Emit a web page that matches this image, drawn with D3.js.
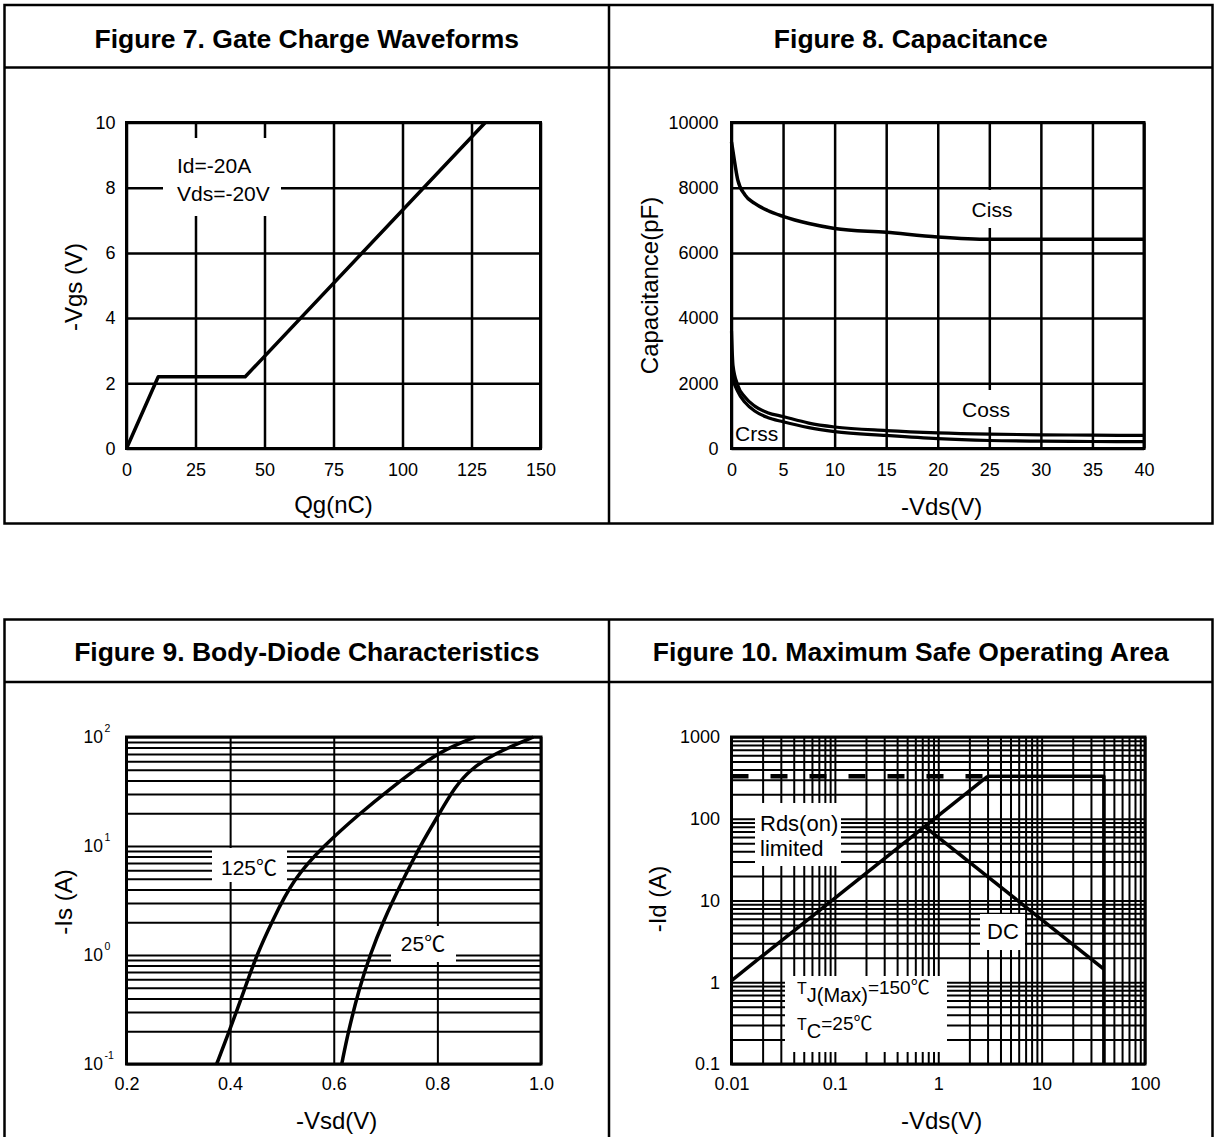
<!DOCTYPE html>
<html><head><meta charset="utf-8">
<script src="https://cdn.jsdelivr.net/npm/d3@7"></script>
<style>body{margin:0;background:#fff} svg{display:block}</style>
</head><body>
<svg id="c" width="1215" height="1137"></svg>
<script>
// ---------- DATA ----------
// Figure 7
const fig7Qg = [0, 11.5, 43, 130];
const fig7Vgs = [0, 2.2, 2.2, 10];
const fig7XTicks = [0, 25, 50, 75, 100, 125, 150];
const fig7YTicks = [0, 2, 4, 6, 8, 10];
// Figure 8
const fig8Vds  = [0, 0.15, 0.6, 1.3, 2.25, 3.5, 5, 7.5, 10, 15, 20, 25, 30, 35, 40];
const fig8Ciss = [9400, 9100, 8250, 7780, 7520, 7300, 7120, 6900, 6750, 6630, 6490, 6420, 6420, 6420, 6420];
const fig8Coss = [3600, 2550, 1950, 1580, 1300, 1100, 980, 780, 660, 550, 480, 440, 420, 410, 400];
const fig8Crss = [2500, 2150, 1750, 1420, 1150, 950, 820, 640, 520, 400, 300, 245, 225, 215, 210];
const fig8XTicks = [0, 5, 10, 15, 20, 25, 30, 35, 40];
const fig8YTicks = [0, 2000, 4000, 6000, 8000, 10000];
// Figure 9
const fig9Vsd125 = [0.374, 0.3985, 0.4288, 0.4513, 0.4802, 0.5221, 0.580, 0.6508, 0.714, 0.757, 0.8039, 0.8728];
const fig9Is125  = [0.1, 0.2, 0.5, 1, 2, 5, 10, 20, 35, 50, 73, 100];
const fig9Vsd25  = [0.6154, 0.6282, 0.6495, 0.6701, 0.6945, 0.7344, 0.7666, 0.802, 0.8342, 0.8631, 0.9082, 0.9854];
const fig9Is25   = [0.1, 0.2, 0.5, 1, 2, 5, 10, 19.2, 35, 50, 70, 100];
const fig9XTicks = [0.2, 0.4, 0.6, 0.8, 1.0];
const fig9YTicks = [0.1, 1, 10, 100];
const fig9YExp   = ["-1", "0", "1", "2"];
// Figure 10
const fig10DashV  = [0.01, 3.0];
const fig10DashId = [330, 330];
const fig10LimV   = [3.0, 40, 40];
const fig10LimId  = [330, 330, 0.1];
const fig10RdsV   = [0.01, 3.0];
const fig10RdsId  = [1.05, 330];
const fig10DcV    = [0.74, 40];
const fig10DcId   = [80, 1.45];
const fig10XTicks = [0.01, 0.1, 1, 10, 100];
const fig10YTicks = [0.1, 1, 10, 100, 1000];

// ---------- DRAWING ----------
const FONT = '"Liberation Sans", Arial, "Noto Sans CJK SC", sans-serif';
const svg = d3.select("#c");

function logGrid(lo, hi) {
  const out = [];
  for (let d = lo; d < hi * 0.999; d *= 10) for (let k = 1; k <= 9; k++) out.push(+(d * k).toPrecision(6));
  out.push(hi);
  return out;
}

function frameRow(y0, y1, hy, titles, ty) {
  svg.append("rect").attr("x", 4.5).attr("y", y0).attr("width", 1208).attr("height", y1 - y0)
    .attr("fill", "none").attr("stroke", "#000").attr("stroke-width", 2.5);
  svg.append("line").attr("x1", 4.5).attr("x2", 1212.5).attr("y1", hy).attr("y2", hy)
    .attr("stroke", "#000").attr("stroke-width", 2.5);
  svg.append("line").attr("x1", 609).attr("x2", 609).attr("y1", y0).attr("y2", y1)
    .attr("stroke", "#000").attr("stroke-width", 2.5);
  titles.forEach((t, i) => {
    svg.append("text").attr("x", i === 0 ? 306.8 : 910.8).attr("y", ty)
      .attr("text-anchor", "middle").attr("font-family", FONT).attr("font-weight", "bold")
      .attr("font-size", 26.5).text(t);
  });
}
frameRow(5, 523.5, 67.5, ["Figure 7. Gate Charge Waveforms", "Figure 8. Capacitance"], 48);
frameRow(619.5, 1150, 682, ["Figure 9. Body-Diode Characteristics", "Figure 10. Maximum Safe Operating Area"], 661);

function panel(p) {
  const g = svg.append("g");
  const vg = g.append("g").attr("transform", `translate(0,${p.B})`)
    .call(d3.axisBottom(p.x).tickValues(p.xGrid).tickSize(-(p.B - p.T)).tickFormat("").tickSizeOuter(0));
  vg.select(".domain").remove();
  vg.selectAll(".tick line").attr("stroke", "#000").attr("stroke-width", p.gw);
  const hg = g.append("g").attr("transform", `translate(${p.L},0)`)
    .call(d3.axisLeft(p.y).tickValues(p.yGrid).tickSize(-(p.R - p.L)).tickFormat("").tickSizeOuter(0));
  hg.select(".domain").remove();
  hg.selectAll(".tick line").attr("stroke", "#000").attr("stroke-width", p.gw);
  (p.boxes || []).forEach(b => g.append("rect").attr("x", b[0]).attr("y", b[1])
    .attr("width", b[2] - b[0]).attr("height", b[3] - b[1]).attr("fill", "#fff"));
  g.append("rect").attr("x", p.L).attr("y", p.T).attr("width", p.R - p.L).attr("height", p.B - p.T)
    .attr("fill", "none").attr("stroke", "#000").attr("stroke-width", 3);
  const xa = g.append("g").attr("transform", `translate(0,${p.B})`)
    .call(d3.axisBottom(p.x).tickValues(p.xTicks).tickFormat(p.xFmt).tickSize(0).tickPadding(p.xPad));
  xa.select(".domain").remove();
  xa.attr("font-family", FONT).attr("font-size", 18);
  xa.selectAll("text").attr("fill", "#000");
  const ya = g.append("g").attr("transform", `translate(${p.L},0)`)
    .call(d3.axisLeft(p.y).tickValues(p.yTicks).tickFormat(p.yFmt).tickSize(0).tickPadding(p.yPad));
  ya.select(".domain").remove();
  ya.attr("font-family", FONT).attr("font-size", 18);
  ya.selectAll("text").attr("fill", "#000");
  g.append("text").attr("x", p.xt[0]).attr("y", p.xt[1]).attr("dy", "0.35em")
    .attr("text-anchor", "middle").attr("font-family", FONT).attr("font-size", 24).text(p.xTitle);
  g.append("text").attr("transform", `translate(${p.yt[0]},${p.yt[1]}) rotate(-90)`).attr("dy", "0.35em")
    .attr("text-anchor", "middle").attr("font-family", FONT).attr("font-size", 24).text(p.yTitle);
  return {g, ya};
}

function curve(g, p, xs, ys, opts = {}) {
  const pts = xs.map((v, i) => [v, ys[i]]);
  const line = d3.line().x(d => p.x(d[0])).y(d => p.y(d[1])).curve(opts.curve || d3.curveLinear);
  g.append("path").attr("d", line(pts)).attr("fill", "none").attr("stroke", "#000")
    .attr("stroke-width", opts.w || 3.5).attr("stroke-linejoin", "round")
    .attr("stroke-dasharray", opts.dash || null);
}

function label(g, x, y, txt, size, anchor) {
  g.append("text").attr("x", x).attr("y", y).attr("font-family", FONT).attr("font-size", size || 21)
    .attr("text-anchor", anchor || "start").text(txt);
}

// ----- Figure 7 -----
{
  const p = {
    L: 126.5, R: 540.5, T: 122.5, B: 448.5, gw: 2.5,
    xTicks: fig7XTicks, yTicks: fig7YTicks, xGrid: fig7XTicks, yGrid: fig7YTicks,
    xFmt: d3.format("d"), yFmt: d3.format("d"), xPad: 15, yPad: 11,
    xTitle: "Qg(nC)", yTitle: "-Vgs (V)", xt: [333.5, 505], yt: [74, 287],
    boxes: [[163, 138, 281, 216]]
  };
  p.x = d3.scaleLinear([0, 150], [p.L, p.R]);
  p.y = d3.scaleLinear([0, 10], [p.B, p.T]);
  const {g} = panel(p);
  curve(g, p, fig7Qg, fig7Vgs);
  label(g, 177, 172.5, "Id=-20A");
  label(g, 177, 200.5, "Vds=-20V");
}

// ----- Figure 8 -----
{
  const p = {
    L: 731.5, R: 1144, T: 122.5, B: 448.5, gw: 2.5,
    xTicks: fig8XTicks, yTicks: fig8YTicks, xGrid: fig8XTicks, yGrid: fig8YTicks,
    xFmt: d3.format("d"), yFmt: d3.format("d"), xPad: 15, yPad: 13,
    xTitle: "-Vds(V)", yTitle: "Capacitance(pF)", xt: [941.6, 507], yt: [650, 285.5],
    boxes: [[963, 190, 1021, 228], [958, 390, 1014, 427], [734, 424, 780, 446]]
  };
  p.x = d3.scaleLinear([0, 40], [p.L, p.R]);
  p.y = d3.scaleLinear([0, 10000], [p.B, p.T]);
  const {g} = panel(p);
  curve(g, p, fig8Vds, fig8Ciss, {curve: d3.curveMonotoneX});
  curve(g, p, fig8Vds, fig8Coss, {curve: d3.curveMonotoneX, w: 3.2});
  curve(g, p, fig8Vds, fig8Crss, {curve: d3.curveMonotoneX, w: 3.2});
  label(g, 992, 216.5, "Ciss", 21, "middle");
  label(g, 986, 416.5, "Coss", 21, "middle");
  label(g, 735, 440.5, "Crss", 21, "start");
}

// ----- Figure 9 -----
{
  const p = {
    L: 126.5, R: 541, T: 737, B: 1064, gw: 2,
    xTicks: fig9XTicks, yTicks: fig9YTicks, xGrid: fig9XTicks, yGrid: logGrid(0.1, 100),
    xFmt: d3.format(".1f"), yFmt: () => "", xPad: 13, yPad: 0,
    xTitle: "-Vsd(V)", yTitle: "-Is (A)", xt: [336.6, 1121], yt: [64, 902],
    boxes: [[212, 848, 287, 882], [391, 926, 456, 962]]
  };
  p.x = d3.scaleLinear([0.2, 1.0], [p.L, p.R]);
  p.y = d3.scaleLog([0.1, 100], [p.B, p.T]);
  const {g} = panel(p);
  fig9YTicks.forEach((v, i) => {
    g.append("text").attr("x", 103).attr("y", p.y(v)).attr("dy", "0.35em")
      .attr("font-family", FONT).attr("font-size", 17.5).attr("text-anchor", "end").text("10");
    g.append("text").attr("x", 104.5).attr("y", p.y(v) - 5).attr("font-family", FONT)
      .attr("font-size", 10.5).text(fig9YExp[i]);
  });
  curve(g, p, fig9Vsd125, fig9Is125, {curve: d3.curveBasis});
  curve(g, p, fig9Vsd25, fig9Is25, {curve: d3.curveBasis});
  label(g, 249, 874.5, "125℃", 21, "middle");
  label(g, 423, 951, "25℃", 21, "middle");
}

// ----- Figure 10 -----
{
  const p = {
    L: 731.5, R: 1145, T: 737, B: 1064, gw: 2,
    xTicks: fig10XTicks, yTicks: fig10YTicks, xGrid: logGrid(0.01, 100), yGrid: logGrid(0.1, 1000),
    xFmt: d => String(d), yFmt: d => String(d), xPad: 13, yPad: 11.5,
    xTitle: "-Vds(V)", yTitle: "-Id (A)", xt: [941.6, 1121], yt: [657.5, 899],
    boxes: [[755, 803, 841, 866], [980, 914, 1025, 950], [785, 976, 947, 1052]]
  };
  p.x = d3.scaleLog([0.01, 100], [p.L, p.R]);
  p.y = d3.scaleLog([0.1, 1000], [p.B, p.T]);
  const {g} = panel(p);
  curve(g, p, fig10DashV, fig10DashId, {w: 4.5, dash: "17,22"});
  curve(g, p, fig10LimV, fig10LimId, {w: 3.5});
  curve(g, p, fig10RdsV, fig10RdsId, {w: 3.5});
  curve(g, p, fig10DcV, fig10DcId, {w: 3.5});
  label(g, 760, 831, "Rds(on)", 22);
  label(g, 760, 856, "limited", 22);
  label(g, 1003, 939, "DC", 22, "middle");
  const t1 = g.append("text").attr("x", 797).attr("y", 994).attr("font-family", FONT);
  t1.append("tspan").attr("font-size", 16).text("T");
  t1.append("tspan").attr("font-size", 20).attr("dy", 8).text("J(Max)");
  t1.append("tspan").attr("font-size", 19).attr("dy", -8).text("=150℃");
  const t2 = g.append("text").attr("x", 797).attr("y", 1030).attr("font-family", FONT);
  t2.append("tspan").attr("font-size", 16).text("T");
  t2.append("tspan").attr("font-size", 20).attr("dy", 8).text("C");
  t2.append("tspan").attr("font-size", 19).attr("dy", -8).text("=25℃");
}
</script>
</body></html>
